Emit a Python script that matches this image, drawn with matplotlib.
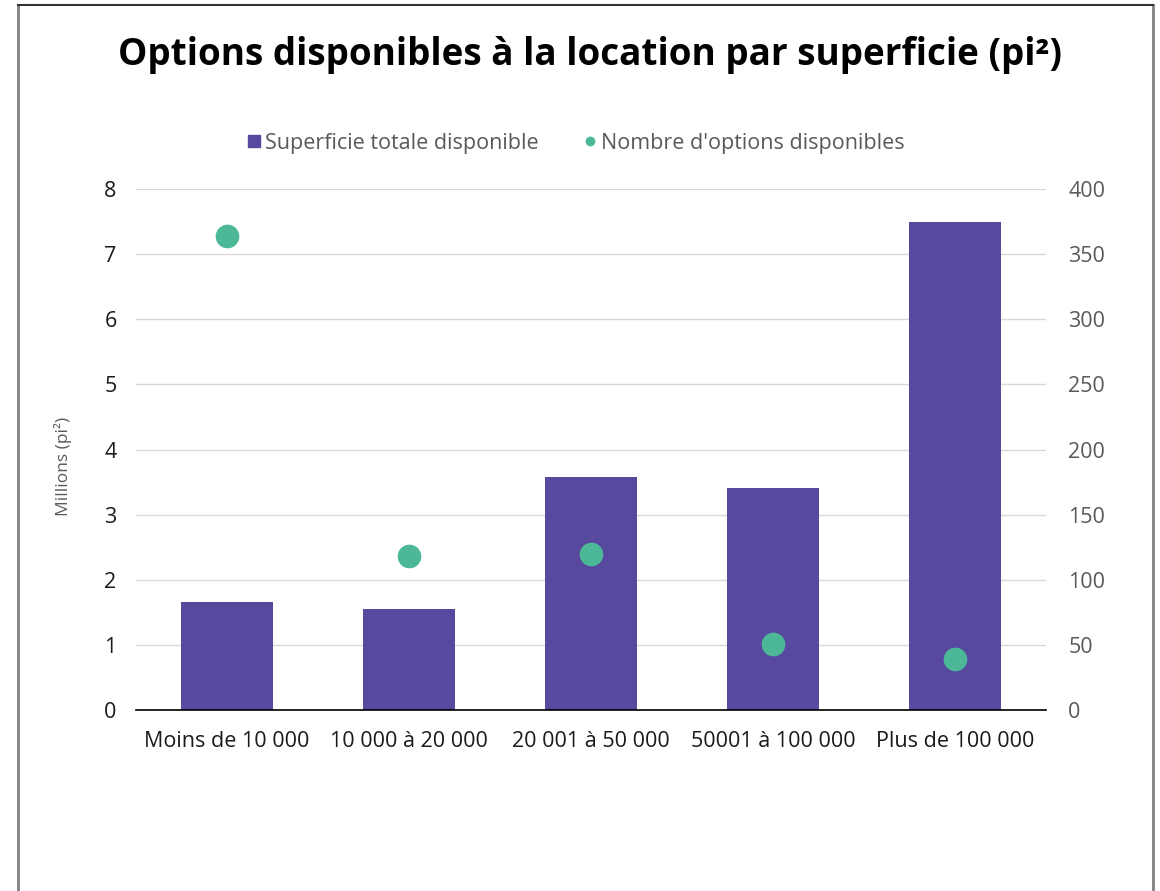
import matplotlib
matplotlib.use('Agg')
import matplotlib.pyplot as plt
from matplotlib.lines import Line2D

plt.rcParams['font.family'] = ['Open Sans', 'DejaVu Sans']

# Données
categories = ['Moins de 10 000', '10 000 à 20 000', '20 001 à 50 000', '50001 à 100 000', 'Plus de 100 000']
superficie = [1.66, 1.55, 3.58, 3.41, 7.50]
nb_options = [364, 118, 120, 51, 39]

couleur_barre = '#574A9E'
couleur_point = '#4DB898'

fig = plt.figure(figsize=(11.6, 8.91), dpi=100)
ax = fig.add_axes([0.1172, 0.2031, 0.7845, 0.5848])
ax2 = ax.twinx()

x = range(len(categories))
ax.bar(x, superficie, width=0.51, color=couleur_barre, zorder=2)
ax2.scatter(x, nb_options, s=290, color=couleur_point, zorder=3, linewidths=0)

ax.set_xlim(-0.5, len(categories) - 0.5)
ax.set_ylim(0, 8)
ax2.set_ylim(0, 400)
ax.set_yticks(range(0, 9))
ax2.set_yticks(range(0, 401, 50))

ax.set_zorder(ax2.get_zorder() - 1)
ax.patch.set_visible(True)
ax2.patch.set_visible(False)

ax.grid(axis='y', color='#d9d9d9', linewidth=1, zorder=0)
for a in (ax, ax2):
    for s in ('top', 'right', 'left', 'bottom'):
        a.spines[s].set_visible(False)
ax.spines['bottom'].set_visible(True)
ax.spines['bottom'].set_color('#000000')
ax.spines['bottom'].set_linewidth(1.2)

ax.tick_params(axis='both', length=0, labelsize=15.5, colors='#1a1a1a')
ax.tick_params(axis='y', pad=14)
ax.tick_params(axis='x', pad=15)
ax2.tick_params(axis='y', length=0, labelsize=15.5, labelcolor='#595959', pad=16)
ax.set_xticks(list(x))
ax.set_xticklabels(categories)

ax.set_ylabel('Millions (pi²)', fontsize=12.5, color='#595959')
ax.yaxis.set_label_coords(-0.070, 0.467)

fig.text(0.5086, 0.938, 'Options disponibles à la location par superficie (pi²)',
         ha='center', va='center', fontsize=26.6, fontweight='bold', color='#000000')

handles = [
    Line2D([], [], marker='s', linestyle='', markersize=8.5, color=couleur_barre),
    Line2D([], [], marker='o', linestyle='', markersize=6, color=couleur_point),
]
fig.legend(handles, ['Superficie totale disponible', "Nombre d'options disponibles"],
           loc='center', bbox_to_anchor=(0.4966, 0.8395), ncol=2, frameon=False,
           fontsize=15.5, labelcolor='#595959', handletextpad=0.2, columnspacing=2.1,
           handlelength=0.6)

# cadre
bord = '#808080'
x0, x1, y0 = 17.5 / 1160, 1152.5 / 1160, 1 - 4.5 / 891
fig.add_artist(Line2D([x0, x0], [0, y0], color=bord, linewidth=2, transform=fig.transFigure))
fig.add_artist(Line2D([x1, x1], [0, y0], color=bord, linewidth=2, transform=fig.transFigure))
fig.add_artist(Line2D([x0, x1], [y0, y0], color='#333333', linewidth=1.5, transform=fig.transFigure))

fig.savefig('out.png', dpi=100)
